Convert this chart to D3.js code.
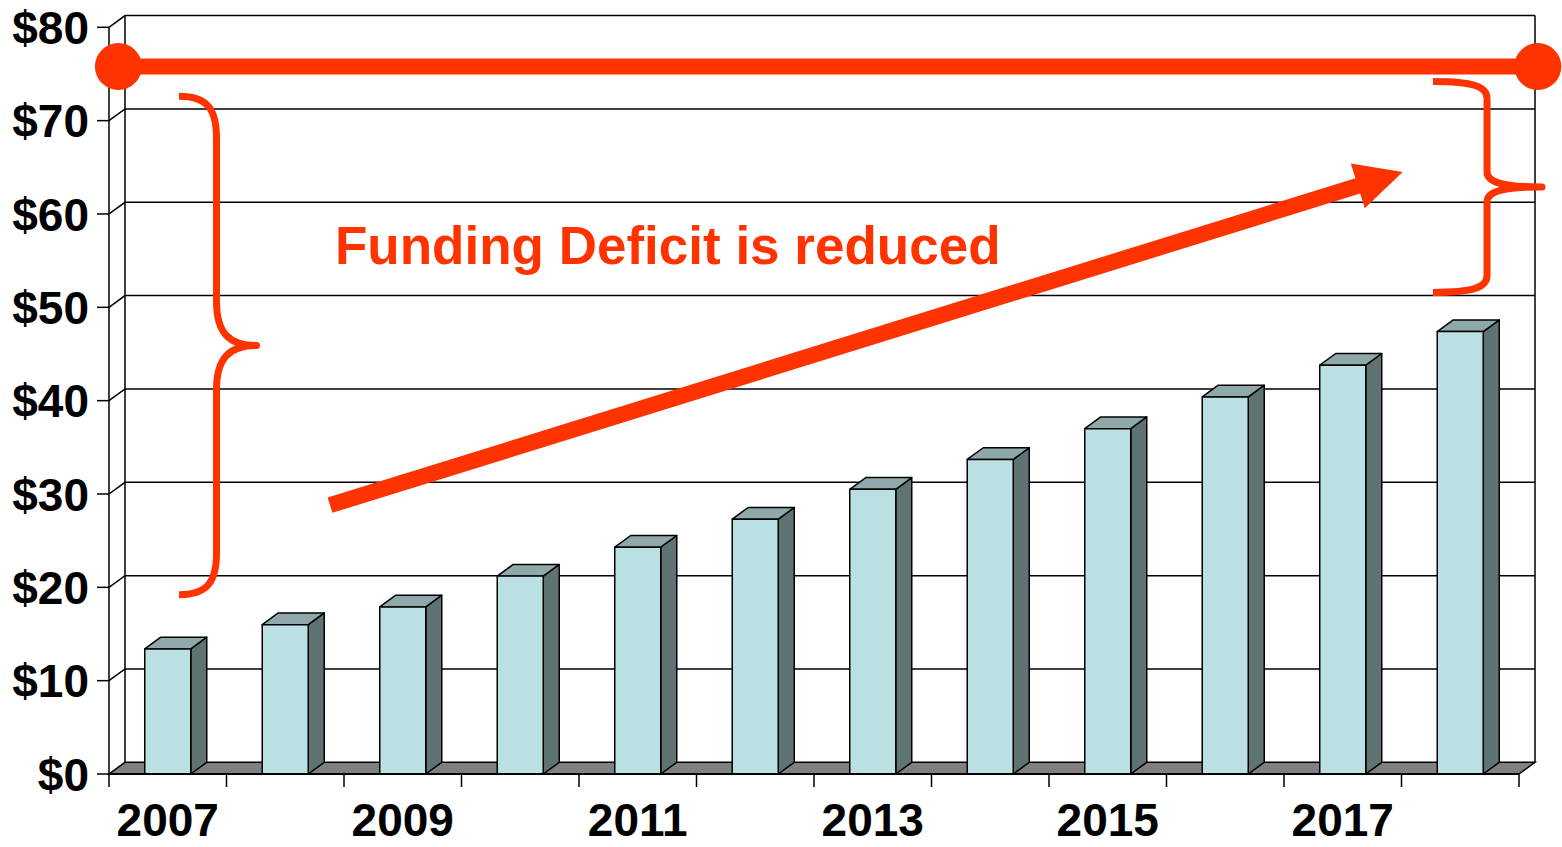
<!DOCTYPE html>
<html>
<head>
<meta charset="utf-8">
<script src="https://cdn.jsdelivr.net/npm/d3@7"></script>
<style>
  body { margin: 0; background: #fff; }
  svg { display: block; font-family: "Liberation Sans", Arial, sans-serif; }
</style>
</head>
<body>
<svg id="chart" width="1562" height="847"></svg>
<script>
// chart values
let years = ["2007","2008","2009","2010","2011","2012","2013","2014","2015","2016","2017","2018"];
let values = [13.4, 16.0, 17.9, 21.2, 24.3, 27.3, 30.5, 33.7, 37.0, 40.4, 43.8, 47.4];
let yTicks = [0, 10, 20, 30, 40, 50, 60, 70, 80];
let yTickLabels = ["$0","$10","$20","$30","$40","$50","$60","$70","$80"];
let xLabelYears = ["2007","2009","2011","2013","2015","2017"];
let target = 75.8;
let noteText = "Funding Deficit is reduced";

let svg = d3.select("#chart");
let orange = "#ff3300",
    dx = 16, dy = -11.7;   // 3d depth offset

let x = d3.scaleBand()
    .domain(years)
    .range([109, 1519])
    .paddingInner(0.6085)
    .paddingOuter(0.30425);
// continuous index scale for the annotations
let xi = d3.scaleLinear().domain([0, years.length]).range([109, 1519]);
let y = d3.scaleLinear().domain([0, 80]).range([774, 27.3]);

let x0 = xi(0), x1 = xi(years.length), y0 = y(0);

// back wall grid
let wall = svg.append("g").attr("id", "wall")
    .style("stroke", "#000").style("stroke-width", 1.5).style("fill", "none");
wall.selectAll(".grid")
    .data(yTicks.slice(1))
    .enter().append("path")
    .attr("class", "grid")
    .attr("d", d => d3.line()([[x0, y(d)], [x0 + dx, y(d) + dy], [x1 + dx, y(d) + dy]]));
wall.append("path")
    .attr("d", d3.line()([[x0 + dx, y0 + dy], [x0 + dx, y(80) + dy]]));
wall.append("path")
    .attr("d", d3.line()([[x1 + dx, y0 + dy], [x1 + dx, y(80) + dy]]));

// floor
svg.append("path")
    .attr("d", d3.line()([[x0, y0], [x1, y0], [x1 + dx, y0 + dy], [x0 + dx, y0 + dy]]) + "Z")
    .style("fill", "#808080")
    .style("stroke", "#000")
    .style("stroke-width", 1.5);

// bars
let bars = svg.append("g").attr("id", "bars")
    .selectAll("g").data(years).enter().append("g")
    .style("stroke", "#000").style("stroke-width", 1.5).style("stroke-linejoin", "round");
let bw = x.bandwidth();
bars.append("path")
    .attr("d", (d, i) => {
        let bx = x(d), by = y(values[i]);
        return d3.line()([[bx + bw, by], [bx + bw + dx, by + dy], [bx + bw + dx, y0 + dy], [bx + bw, y0]]) + "Z";
    })
    .style("fill", "#5f7373");
bars.append("path")
    .attr("d", (d, i) => {
        let bx = x(d), by = y(values[i]);
        return d3.line()([[bx, by], [bx + dx, by + dy], [bx + bw + dx, by + dy], [bx + bw, by]]) + "Z";
    })
    .style("fill", "#8fa9ab");
bars.append("rect")
    .attr("x", d => x(d))
    .attr("y", (d, i) => y(values[i]))
    .attr("width", bw)
    .attr("height", (d, i) => y0 - y(values[i]))
    .style("fill", "#bbe0e3");

// axes
let axis = svg.append("g").style("stroke", "#000").style("stroke-width", 1.5).style("fill", "none");
axis.append("path").attr("d", d3.line()([[x0, y(80)], [x0, y0]]));
axis.append("path").attr("d", d3.line()([[x0, y0], [x1, y0]])).style("stroke-width", 2);
axis.selectAll(".ytick").data(yTicks).enter().append("path")
    .attr("class", "ytick")
    .attr("d", d => d3.line()([[x0 - 12, y(d)], [x0, y(d)]]));
axis.selectAll(".xtick").data(d3.range(years.length + 1)).enter().append("path")
    .attr("class", "xtick")
    .attr("d", i => d3.line()([[xi(i), y0], [xi(i), y0 + 13]]));

svg.append("g").selectAll("text").data(yTicks).enter().append("text")
    .attr("x", 89)
    .attr("y", d => y(d))
    .attr("dy", "0.36em")
    .style("text-anchor", "end")
    .style("font-size", "46px")
    .style("font-weight", "bold")
    .text((d, i) => yTickLabels[i]);

svg.append("g").selectAll("text").data(xLabelYears).enter().append("text")
    .attr("x", d => x(d) + bw / 2)
    .attr("y", 836)
    .style("text-anchor", "middle")
    .style("font-size", "46px")
    .style("font-weight", "bold")
    .text(d => d);

// annotations
let note = svg.append("g").attr("id", "note");

// target line
note.append("path")
    .attr("d", d3.line()([[xi(0.08), y(target)], [xi(12.16), y(target)]]))
    .style("stroke", orange).style("stroke-width", 16).style("fill", "none");
note.selectAll("circle").data([0.08, 12.16]).enter().append("circle")
    .attr("cx", d => xi(d)).attr("cy", y(target)).attr("r", 23.5)
    .style("fill", orange);

// braces
function brace(xe, xs, xt, yt, yb, r1, r2) {
    let ym = (yt + yb) / 2, p = d3.path();
    let k = xs - xe, m = xt - xs;
    p.moveTo(xe, yt);
    p.bezierCurveTo(xe + k * 0.75, yt, xs, yt + r1 * 0.3, xs, yt + r1);
    p.lineTo(xs, ym - r2);
    p.bezierCurveTo(xs, ym - r2 * 0.3, xs + m * 0.3, ym, xt, ym);
    p.bezierCurveTo(xs + m * 0.3, ym, xs, ym + r2 * 0.3, xs, ym + r2);
    p.lineTo(xs, yb - r1);
    p.bezierCurveTo(xs, yb - r1 * 0.3, xe + k * 0.75, yb, xe, yb);
    return p.toString();
}
note.append("path")
    .attr("d", brace(xi(0.596), xi(0.915), xi(1.255), y(72.6), y(19.2), 42, 44))
    .style("stroke", orange).style("stroke-width", 7).style("fill", "none")
    .style("stroke-linejoin", "round");
note.append("path")
    .attr("d", brace(xi(11.268), xi(11.728), xi(12.196), y(74.2), y(51.6), 17, 15))
    .style("stroke", orange).style("stroke-width", 7).style("fill", "none")
    .style("stroke-linejoin", "round");

// arrow
let ax0 = xi(1.881), ay0 = y(28.8), ax1 = xi(11.01), ay1 = y(64.5);
let ang = Math.atan2(ay1 - ay0, ax1 - ax0),
    ux = Math.cos(ang), uy = Math.sin(ang), px = -uy, py = ux,
    headLen = 47, headW = 23.5, shaft = 8;
let bxm = ax1 - ux * headLen, bym = ay1 - uy * headLen;
note.append("path")
    .attr("d", d3.line()([
        [ax0 + px * shaft, ay0 + py * shaft],
        [bxm + px * shaft, bym + py * shaft],
        [bxm + px * headW, bym + py * headW],
        [ax1, ay1],
        [bxm - px * headW, bym - py * headW],
        [bxm - px * shaft, bym - py * shaft],
        [ax0 - px * shaft, ay0 - py * shaft]
    ]) + "Z")
    .style("fill", orange);

note.append("text")
    .attr("x", 335)
    .attr("y", 264)
    .style("fill", orange)
    .style("font-size", "53px")
    .style("font-weight", "bold")
    .text(noteText);
</script>
</body>
</html>
